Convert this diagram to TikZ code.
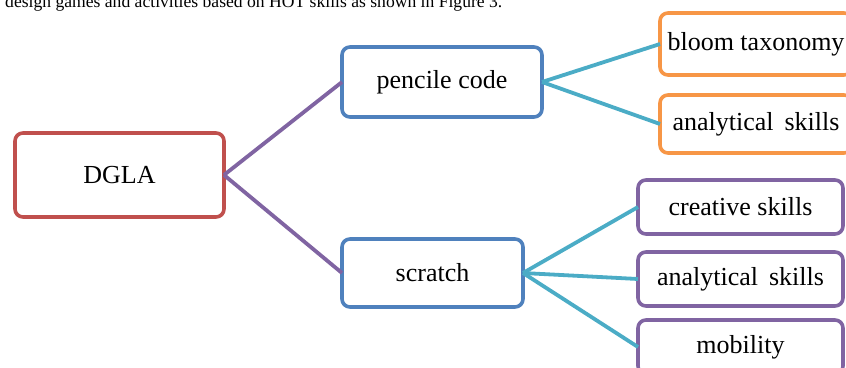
\documentclass[tikz,border=0pt]{standalone}
\usepackage{fontspec}
\setmainfont{Liberation Serif}
\definecolor{cred}{HTML}{C0504D}
\definecolor{cblue}{HTML}{4F81BD}
\definecolor{corange}{HTML}{F79646}
\definecolor{cpurple}{HTML}{8064A2}
\definecolor{cteal}{HTML}{4BACC6}
\tikzset{
  box/.style={draw, line width=3.6pt, rounded corners=8pt, fill=white, inner sep=0pt, outer sep=0pt,
    font=\fontsize{26}{30}\selectfont, text=black},
  conn/.style={line width=3.8pt},
}
\begin{document}
\begin{tikzpicture}[x=1pt,y=-1pt]
\useasboundingbox (0,0) rectangle (846,367);
\clip (0,0) rectangle (846,367);
\node[anchor=base west, inner sep=0pt, font=\fontsize{17.6}{20}\selectfont] (caption) at (5,7) {design games and activities based on HOT skills as shown in Figure 3.};
% nodes
\node[box, draw=cred, minimum width=209pt, minimum height=84pt] (dgla) at (119.5,175) {DGLA};
\node[box, draw=cblue, minimum width=200pt, minimum height=70pt] (pc) at (442,82) {pencile code};
\node[box, draw=cblue, minimum width=181pt, minimum height=68pt] (sc) at (432.5,273) {scratch};
\node[box, draw=corange, minimum width=192pt, minimum height=62pt] (bt) at (756,44) {bloom taxonomy};
\node[box, draw=corange, minimum width=192pt, minimum height=58pt] (as1) at (756,124) {analytical\, skills};
\node[box, draw=cpurple, minimum width=205pt, minimum height=54pt] (cs) at (740.5,207) {creative skills};
\node[box, draw=cpurple, minimum width=205pt, minimum height=54pt] (as2) at (740.5,279) {analytical\, skills};
\node[box, draw=cpurple, minimum width=205pt, minimum height=54pt] (mob) at (740.5,347) {mobility};
% connectors
\draw[conn, cpurple] (dgla.east) -- (pc.west);
\draw[conn, cpurple] (dgla.east) -- (sc.west);
\draw[conn, cteal] (pc.east) -- (bt.west);
\draw[conn, cteal] (pc.east) -- (as1.west);
\draw[conn, cteal] (sc.east) -- (cs.west);
\draw[conn, cteal] (sc.east) -- (as2.west);
\draw[conn, cteal] (sc.east) -- (mob.west);
\end{tikzpicture}
\end{document}
